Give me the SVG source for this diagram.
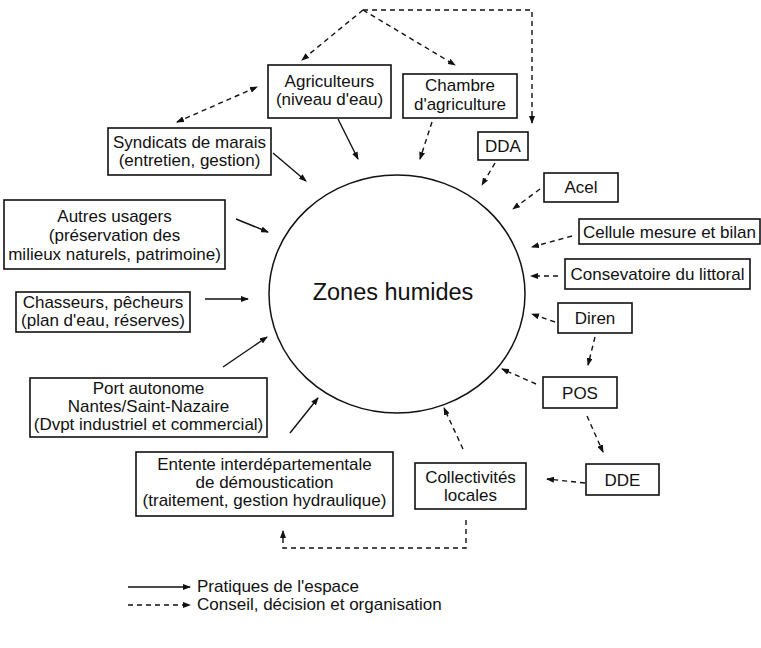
<svg xmlns="http://www.w3.org/2000/svg" width="761" height="648" viewBox="0 0 761 648">
<style>
  .box{fill:#fff;stroke:#111;stroke-width:1.6}
  .t{font-family:"Liberation Sans",Arial,sans-serif;font-size:17px;fill:#111;text-anchor:middle}
  .title{font-family:"Liberation Sans",Arial,sans-serif;font-size:23.5px;fill:#111;text-anchor:middle}
  .lg{font-family:"Liberation Sans",Arial,sans-serif;font-size:17px;fill:#111}
  .solid{fill:none;stroke:#111;stroke-width:1.4;marker-end:url(#ah)}
  .dash{fill:none;stroke:#111;stroke-width:1.4;stroke-dasharray:5 4;marker-end:url(#ah)}
  .dash2{fill:none;stroke:#111;stroke-width:1.4;stroke-dasharray:5 4;marker-end:url(#ah);marker-start:url(#ahs)}
</style>
<defs>
  <marker id="ah" markerUnits="userSpaceOnUse" markerWidth="8" markerHeight="6" refX="7" refY="3" orient="auto">
    <path d="M0,0 L8,3 L0,6 z" fill="#111"/>
  </marker>
  <marker id="ahs" markerUnits="userSpaceOnUse" markerWidth="8" markerHeight="6" refX="1" refY="3" orient="auto">
    <path d="M8,0 L0,3 L8,6 z" fill="#111"/>
  </marker>
</defs>
<rect width="761" height="648" fill="#fff"/>

<g id="zones-humides">
  <ellipse cx="397" cy="294" rx="128" ry="119" fill="none" stroke="#111" stroke-width="1.5"/>
  <text class="title" x="393" y="300">Zones humides</text>
</g>

<g id="agriculteurs">
  <rect class="box" x="268" y="65" width="123" height="53"/>
  <text class="t" x="329.5" y="87">Agriculteurs</text>
  <text class="t" x="329.5" y="105">(niveau d'eau)</text>
</g>
<g id="chambre-agriculture">
  <rect class="box" x="403" y="74" width="114" height="44"/>
  <text class="t" x="460" y="91">Chambre</text>
  <text class="t" x="460" y="110">d'agriculture</text>
</g>
<g id="dda">
  <rect class="box" x="478" y="132" width="50" height="28"/>
  <text class="t" x="503" y="152">DDA</text>
</g>
<g id="syndicats">
  <rect class="box" x="108" y="128" width="163" height="47"/>
  <text class="t" x="189.5" y="148">Syndicats de marais</text>
  <text class="t" x="189.5" y="166">(entretien, gestion)</text>
</g>
<g id="autres-usagers">
  <rect class="box" x="4" y="200" width="221" height="69"/>
  <text class="t" x="114.5" y="222">Autres usagers</text>
  <text class="t" x="114.5" y="241">(préservation des</text>
  <text class="t" x="114.5" y="260">milieux naturels, patrimoine)</text>
</g>
<g id="chasseurs">
  <rect class="box" x="16" y="292" width="174" height="40"/>
  <text class="t" x="103" y="308">Chasseurs, pêcheurs</text>
  <text class="t" x="103" y="326">(plan d'eau, réserves)</text>
</g>
<g id="port-autonome">
  <rect class="box" x="30" y="378" width="237" height="59"/>
  <text class="t" x="148.5" y="394">Port autonome</text>
  <text class="t" x="148.5" y="412">Nantes/Saint-Nazaire</text>
  <text class="t" x="148.5" y="430">(Dvpt industriel et commercial)</text>
</g>
<g id="entente">
  <rect class="box" x="136" y="452" width="257" height="64"/>
  <text class="t" x="264.5" y="470">Entente interdépartementale</text>
  <text class="t" x="264.5" y="488">de démoustication</text>
  <text class="t" x="264.5" y="506">(traitement, gestion hydraulique)</text>
</g>
<g id="collectivites">
  <rect class="box" x="415" y="463" width="111" height="46"/>
  <text class="t" x="470.5" y="483">Collectivités</text>
  <text class="t" x="470.5" y="501">locales</text>
</g>
<g id="dde">
  <rect class="box" x="586" y="464" width="73" height="31"/>
  <text class="t" x="622.5" y="486">DDE</text>
</g>
<g id="pos">
  <rect class="box" x="543" y="377" width="74" height="31"/>
  <text class="t" x="580" y="399">POS</text>
</g>
<g id="diren">
  <rect class="box" x="558" y="303" width="74" height="30"/>
  <text class="t" x="595" y="324">Diren</text>
</g>
<g id="conservatoire">
  <rect class="box" x="565" y="259" width="185" height="30"/>
  <text class="t" x="657.5" y="280">Consevatoire du littoral</text>
</g>
<g id="cellule">
  <rect class="box" x="579" y="219" width="181" height="25"/>
  <text class="t" x="669.5" y="238">Cellule mesure et bilan</text>
</g>
<g id="acel">
  <rect class="box" x="544" y="173" width="74" height="29"/>
  <text class="t" x="581" y="193">Acel</text>
</g>

<g id="connectors">
  <line class="solid" x1="338" y1="119" x2="358" y2="159"/>
  <line class="solid" x1="273" y1="153" x2="306" y2="181"/>
  <line class="solid" x1="236" y1="219" x2="268" y2="232"/>
  <line class="solid" x1="205" y1="299" x2="248" y2="299"/>
  <line class="solid" x1="223" y1="367" x2="267" y2="337"/>
  <line class="solid" x1="290" y1="433" x2="318" y2="398"/>

  <line class="dash" x1="363" y1="10" x2="302" y2="60"/>
  <line class="dash" x1="363" y1="10" x2="455" y2="65"/>
  <polyline class="dash" points="363,10 532,10 532,123"/>
  <line class="dash2" x1="177" y1="122" x2="257" y2="87"/>
  <line class="dash" x1="432" y1="122" x2="420" y2="159"/>
  <line class="dash" x1="495" y1="163" x2="482" y2="185"/>
  <line class="dash" x1="540" y1="189" x2="513" y2="209"/>
  <line class="dash" x1="572" y1="236" x2="532" y2="247"/>
  <line class="dash" x1="558" y1="276" x2="531" y2="276"/>
  <line class="dash" x1="555" y1="322" x2="532" y2="314"/>
  <line class="dash" x1="595" y1="337" x2="588" y2="365"/>
  <line class="dash" x1="536" y1="384" x2="502" y2="369"/>
  <line class="dash" x1="587" y1="416" x2="603" y2="452"/>
  <line class="dash" x1="585" y1="483" x2="547" y2="479"/>
  <line class="dash" x1="463" y1="449" x2="444" y2="408"/>
  <polyline class="dash" points="466,520 466,548 283,548 283,531"/>
</g>

<g id="legend">
  <line class="solid" x1="128" y1="587" x2="190" y2="587"/>
  <text class="lg" x="197" y="592">Pratiques de l'espace</text>
  <line class="dash" x1="128" y1="605" x2="190" y2="605"/>
  <text class="lg" x="197" y="610">Conseil, décision et organisation</text>
</g>
</svg>
